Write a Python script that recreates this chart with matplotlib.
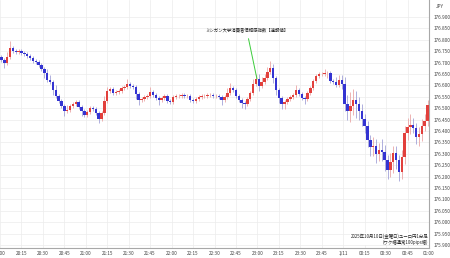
import numpy as np
import matplotlib

matplotlib.use("Agg")
import matplotlib.pyplot as plt

plt.rcParams["font.family"] = ["Noto Sans CJK JP", "DejaVu Sans"]

# EUR/JPY, 2-minute bars, 20:00 -> 01:00
first_open = 176.725
closes = [
    176.711, 176.698, 176.725, 176.764, 176.751, 176.746, 176.751, 176.742, 176.738, 176.729,
    176.720, 176.707, 176.703, 176.689, 176.672, 176.654, 176.624, 176.615, 176.580, 176.554,
    176.532, 176.510, 176.488, 176.493, 176.510, 176.518, 176.527, 176.505, 176.488, 176.470,
    176.484, 176.501, 176.497, 176.479, 176.453, 176.479, 176.532, 176.575, 176.584, 176.567,
    176.571, 176.575, 176.589, 176.593, 176.606, 176.598, 176.593, 176.562, 176.536, 176.540,
    176.549, 176.553, 176.571, 176.558, 176.545, 176.536, 176.545, 176.553, 176.532, 176.527,
    176.549, 176.553, 176.553, 176.558, 176.553, 176.553, 176.536, 176.532, 176.540, 176.549,
    176.553, 176.553, 176.558, 176.558, 176.553, 176.553, 176.549, 176.536, 176.549, 176.567,
    176.589, 176.580, 176.553, 176.536, 176.523, 176.518, 176.540, 176.567, 176.606, 176.628,
    176.597, 176.615, 176.632, 176.659, 176.676, 176.632, 176.580, 176.545, 176.518, 176.527,
    176.540, 176.549, 176.558, 176.580, 176.562, 176.545, 176.540, 176.567, 176.589, 176.619,
    176.641, 176.650, 176.650, 176.654, 176.654, 176.619, 176.615, 176.602, 176.624, 176.606,
    176.518, 176.488, 176.510, 176.536, 176.518, 176.488, 176.453, 176.422, 176.361, 176.330,
    176.334, 176.299, 176.317, 176.308, 176.273, 176.229, 176.264, 176.303, 176.273, 176.220,
    176.286, 176.391, 176.418, 176.426, 176.413, 176.374, 176.387, 176.422, 176.444, 176.514,
]
# wick lengths in pips above / below the body
upper_wick = [
    1, 1, 2, 3, 1, 1, 1, 1, 1, 1,
    1, 1, 1, 1, 1, 1, 2, 2, 1, 2,
    1, 1, 1, 2, 1, 1, 1, 1, 1, 1,
    1, 1, 1, 1, 1, 1, 2, 2, 1, 1,
    1, 1, 1, 1, 2, 1, 1, 1, 1, 1,
    1, 1, 2, 1, 1, 1, 1, 1, 1, 1,
    1, 1, 1, 1, 1, 1, 1, 1, 1, 1,
    1, 1, 1, 1, 1, 1, 1, 1, 1, 2,
    2, 1, 1, 1, 1, 1, 1, 1, 2, 2,
    2, 2, 2, 2, 3, 2, 1, 1, 1, 1,
    1, 1, 1, 2, 1, 1, 1, 1, 1, 1,
    1, 1, 1, 2, 1, 1, 1, 2, 2, 2,
    3, 4, 6, 5, 4, 3, 3, 2, 2, 2,
    4, 3, 3, 5, 3, 2, 4, 3, 3, 2,
    3, 3, 4, 5, 3, 2, 3, 3, 3, 2,
]
lower_wick = [
    1, 2, 1, 1, 1, 1, 1, 1, 1, 1,
    1, 1, 1, 1, 1, 2, 1, 1, 2, 1,
    1, 1, 2, 1, 1, 1, 1, 1, 2, 1,
    1, 1, 1, 1, 2, 1, 1, 1, 1, 1,
    1, 1, 1, 1, 1, 1, 1, 2, 2, 1,
    1, 1, 1, 1, 1, 2, 1, 1, 1, 1,
    1, 1, 1, 1, 1, 1, 1, 1, 1, 1,
    1, 1, 1, 1, 1, 1, 1, 2, 1, 1,
    1, 1, 1, 1, 2, 2, 1, 1, 1, 1,
    2, 1, 1, 1, 1, 2, 2, 2, 2, 2,
    1, 1, 1, 1, 1, 1, 2, 1, 1, 1,
    1, 1, 1, 1, 2, 1, 1, 1, 1, 2,
    3, 4, 5, 4, 6, 4, 3, 3, 3, 4,
    4, 4, 3, 4, 5, 4, 3, 5, 4, 4,
    3, 3, 3, 3, 2, 3, 4, 3, 2, 2,
]
bar_minutes = 2

tick_labels = [
    "20:00", "20:15", "20:30", "20:45", "21:00", "21:15", "21:30", "21:45",
    "22:00", "22:15", "22:30", "22:45", "23:00", "23:15", "23:30", "23:45",
    "1/11", "00:15", "00:30", "00:45", "01:00",
]
price_ticks = np.round(np.arange(175.90, 176.901, 0.05), 3)

event_text = "ミシガン大学消費者信頼感指数【速報値】"
event_minute = 180
caption = "2025年10月10日(金曜日)ユーロ円1分足\n(ワク幅通常100pips幅)"

UP = "#e2403c"
DOWN = "#3434d2"
UP_WICK = "#eaa6a6"
DOWN_WICK = "#a2a2d8"


def main() -> None:
    c = np.array(closes)
    o = np.concatenate([[first_open], c[:-1]])
    hi = np.maximum(o, c) + np.array(upper_wick) * 0.01
    lo = np.minimum(o, c) - np.array(lower_wick) * 0.01
    x = np.arange(len(c)) * bar_minutes + bar_minutes / 2
    up = c >= o

    fig = plt.figure(figsize=(4.5, 2.58), dpi=100)
    ax = fig.add_axes([0.0, 10 / 258, 429 / 450, 248 / 258])

    ax.vlines(x[up], lo[up], hi[up], color=UP_WICK, lw=0.6, zorder=2)
    ax.vlines(x[~up], lo[~up], hi[~up], color=DOWN_WICK, lw=0.6, zorder=2)
    body = np.maximum(np.abs(c - o), 0.0015)
    ax.bar(x[up], body[up], bottom=np.minimum(o, c)[up], width=1.7, color=UP, lw=0, zorder=3)
    ax.bar(x[~up], body[~up], bottom=np.minimum(o, c)[~up], width=1.7, color=DOWN, lw=0, zorder=3)

    ax.set_xlim(0, 300)
    ax.set_ylim(175.887, 176.9746)
    ax.set_xticks(np.arange(0, 301, 15))
    ax.set_xticklabels(tick_labels)
    ax.set_yticks(price_ticks)
    ax.set_yticklabels([f"{p:.3f}" for p in price_ticks])
    ax.yaxis.tick_right()
    ax.tick_params(axis="both", length=0, labelsize=3.4, colors="#444444")
    ax.tick_params(axis="x", pad=2)
    ax.tick_params(axis="y", pad=3)
    ax.grid(True, color="#ececec", lw=0.5, zorder=0)

    for side in ("top", "left"):
        ax.spines[side].set_visible(False)
    for side in ("right", "bottom"):
        ax.spines[side].set_color("#a8a8a8")
        ax.spines[side].set_linewidth(0.8)

    fig.text(440 / 450, 1 - 7 / 258, "JPY", fontsize=3.4, color="#444444", ha="center", va="center")

    event_price = c[event_minute // bar_minutes - 1]
    ax.annotate(
        event_text,
        xy=(event_minute - 0.3, event_price),
        xytext=(event_minute - 7.5, 176.843),
        fontsize=3.2,
        color="#222222",
        ha="center",
        va="center",
        arrowprops=dict(arrowstyle="-", color="#3ccc3c", lw=0.7, shrinkA=2.5, shrinkB=0),
        zorder=5,
    )

    ax.text(
        0.998, 0.014, caption,
        transform=ax.transAxes,
        fontsize=3.2,
        color="#222222",
        ha="right",
        va="bottom",
        linespacing=1.1,
        multialignment="right",
        bbox=dict(facecolor="white", edgecolor="none", pad=0.3),
        zorder=6,
    )

    fig.savefig("out.png", dpi=100)
    plt.close(fig)


if __name__ == "__main__":
    main()
